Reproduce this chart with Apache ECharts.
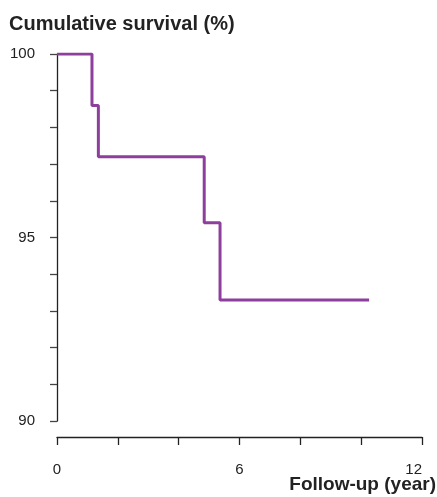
<!DOCTYPE html>
<html><head><meta charset="utf-8">
<script src="https://cdn.jsdelivr.net/npm/echarts@6/dist/echarts.min.js"></script>
<style>html,body{margin:0;padding:0;background:#fff}#c{width:437px;height:497px}</style>
</head><body><div id="c"></div>
<script>
const timesYears = [0, 1.15, 1.36, 4.84, 5.36, 10.26];
const survivalPct = [100, 98.6, 97.2, 95.4, 93.3, 93.3];
const xTickLabels = [0, 6, 12];
const yTickLabels = [90, 95, 100];

const chart = echarts.init(document.getElementById('c'), null, {renderer: 'canvas'});
const font = 'Liberation Sans, Arial, Helvetica, sans-serif';
chart.setOption({
  animation: false,
  title: [
    {text: 'Cumulative survival (%)', left: 9, top: 14, padding: 0,
     textStyle: {fontFamily: font, fontSize: 20, fontWeight: 'bold', color: '#222'}},
    {text: 'Follow-up (year)', right: 1, top: 475, padding: 0,
     textStyle: {fontFamily: font, fontSize: 19, fontWeight: 'bold', color: '#222'}}
  ],
  grid: {left: 57, right: 15, top: 54, bottom: 76},
  xAxis: {
    type: 'value', min: 0, max: 12, interval: 2, offset: 16,
    axisLine: {show: true, lineStyle: {color: '#222', width: 1.3}},
    axisTick: {show: true, length: 8, lineStyle: {color: '#222', width: 1.3}},
    splitLine: {show: false},
    axisLabel: {margin: 25, fontFamily: font, fontSize: 15, color: '#222', alignMaxLabel: 'right',
      formatter: v => xTickLabels.includes(v) ? String(v) : ''}
  },
  yAxis: {
    type: 'value', min: 90, max: 100, interval: 1,
    axisLine: {show: true, lineStyle: {color: '#222', width: 1.3}},
    axisTick: {show: true, length: 7, lineStyle: {color: '#444', width: 1.3}},
    splitLine: {show: false},
    axisLabel: {margin: 22, fontFamily: font, fontSize: 15, color: '#222',
      formatter: v => yTickLabels.includes(v) ? String(v) : ''}
  },
  series: [{
    type: 'line', step: 'end', symbol: 'none',
    data: timesYears.map((t, i) => [t, survivalPct[i]]),
    lineStyle: {color: '#8E3E9C', width: 3}
  }]
});
</script></body></html>
